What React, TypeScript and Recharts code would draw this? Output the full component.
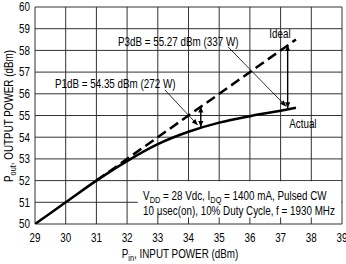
import { LineChart, Line, XAxis, YAxis, CartesianGrid, ReferenceLine, ReferenceArea, ReferenceDot } from "recharts";

const FONT = '"Liberation Sans", Arial, sans-serif';
const SQUEEZE = 0.82; // narrow face look

// axes
const xTicks = [29, 30, 31, 32, 33, 34, 35, 36, 37, 38, 39];
const yTicks = [50, 51, 52, 53, 54, 55, 56, 57, 58, 59, 60];

// measured output power
const pinActual = [29, 30, 31, 32, 33, 34, 35, 36, 37, 37.5];
const poutActual = [50, 51, 52, 52.9, 53.68, 54.25, 54.67, 54.97, 55.22, 55.36];

// ideal (linear) output power
const pinIdeal = [31, 37.5];
const poutIdeal = [52, 58.5];

// compression arrows: input power, ideal level, actual level
const p1Arrow = [34.4, 55.41, 54.47];
const p3Arrow = [37.23, 58.25, 55.33];

// label leaders: [from pin, from pout, to pin, to pout]
const p1Leader = [33.23, 56.18, 34.3, 54.56];
const p3Leader = [35.29, 58.16, 37.18, 55.42];

const actualData = pinActual.map((pin, i) => ({ pin, pout: poutActual[i] }));
const idealData = pinIdeal.map((pin, i) => ({ pin, pout: poutIdeal[i] }));

function NText({ x, y, anchor = "start", rotate = 0, dy = "0.36em", children }: any) {
  return (
    <text
      transform={`translate(${x},${y}) rotate(${rotate}) scale(${SQUEEZE},1)`}
      textAnchor={anchor}
      dy={dy}
      fontFamily={FONT}
      fontSize={12}
      fill="#000"
    >
      {children}
    </text>
  );
}

function head(x: number, y: number, dx: number, dy: number, size: number) {
  const len = Math.hypot(dx, dy) || 1;
  const ux = dx / len;
  const uy = dy / len;
  const bx = x - ux * size;
  const by = y - uy * size;
  const w = size * 0.42;
  return (
    <polygon
      points={`${x},${y} ${bx - uy * w},${by + ux * w} ${bx + uy * w},${by - ux * w}`}
      fill="#000"
    />
  );
}

const doubleArrow = (p: any) => {
  const { x1, y1, x2, y2 } = p;
  return (
    <g>
      <line x1={x1} y1={y1} x2={x2} y2={y2} stroke="#000" strokeWidth={1.4} />
      {head(x1, y1, x1 - x2, y1 - y2, 6)}
      {head(x2, y2, x2 - x1, y2 - y1, 6)}
    </g>
  );
};

const leader = (p: any) => {
  const { x1, y1, x2, y2 } = p;
  return (
    <g>
      <line x1={x1} y1={y1} x2={x2} y2={y2} stroke="#000" strokeWidth={0.8} />
      {head(x2, y2, x2 - x1, y2 - y1, 6)}
    </g>
  );
};

const note = (content: React.ReactNode) => (p: any) => (
  <NText x={p.cx} y={p.cy}>{content}</NText>
);

const sub = (s: string) => (
  <tspan fontSize={9} dy={3}>{s}</tspan>
);

export default function App() {
  return (
    <div style={{ position: "absolute", left: 0, top: 0, width: 346, height: 264, background: "#fff" }}>
      <LineChart width={346} height={264} margin={{ top: 7, right: 4, bottom: 0, left: 0 }}>
        <CartesianGrid stroke="#333" strokeWidth={1} />
        <XAxis
          type="number"
          dataKey="pin"
          domain={[29, 39]}
          ticks={xTicks}
          interval={0}
          allowDataOverflow
          height={40}
          axisLine={false}
          tickLine={false}
          tickSize={0}
          tickMargin={9}
          tick={(p: any) => <NText x={p.x} y={p.y} anchor="middle" dy="0.72em">{p.payload.value}</NText>}
        />
        <YAxis
          type="number"
          dataKey="pout"
          domain={[50, 60]}
          ticks={yTicks}
          interval={0}
          allowDataOverflow
          width={35}
          axisLine={false}
          tickLine={false}
          tickSize={0}
          tickMargin={5}
          tick={(p: any) => <NText x={p.x} y={p.y} anchor="end">{p.payload.value}</NText>}
        />
        <ReferenceArea x1={32.35} x2={38.97} y1={50.3} y2={51.97} fill="#fff" fillOpacity={1} stroke="none" />
        <Line data={idealData} dataKey="pout" type="linear" stroke="#000" strokeWidth={2.5} strokeDasharray="10 5" dot={false} isAnimationActive={false} />
        <Line data={actualData} dataKey="pout" type="monotone" stroke="#000" strokeWidth={2.5} dot={false} isAnimationActive={false} />
        <ReferenceLine segment={[{ x: p1Arrow[0], y: p1Arrow[1] }, { x: p1Arrow[0], y: p1Arrow[2] }]} shape={doubleArrow} />
        <ReferenceLine segment={[{ x: p3Arrow[0], y: p3Arrow[1] }, { x: p3Arrow[0], y: p3Arrow[2] }]} shape={doubleArrow} />
        <ReferenceLine segment={[{ x: p1Leader[0], y: p1Leader[1] }, { x: p1Leader[2], y: p1Leader[3] }]} shape={leader} />
        <ReferenceLine segment={[{ x: p3Leader[0], y: p3Leader[1] }, { x: p3Leader[2], y: p3Leader[3] }]} shape={leader} />
        <ReferenceDot x={31.7} y={58.39} r={0} ifOverflow="visible" shape={note("P3dB = 55.27 dBm (337 W)")} />
        <ReferenceDot x={29.65} y={56.45} r={0} ifOverflow="visible" shape={note("P1dB = 54.35 dBm (272 W)")} />
        <ReferenceDot x={36.63} y={58.79} r={0} ifOverflow="visible" shape={note("Ideal")} />
        <ReferenceDot x={37.28} y={54.64} r={0} ifOverflow="visible" shape={note("Actual")} />
        <ReferenceDot
          x={32.52}
          y={51.3}
          r={0}
          ifOverflow="visible"
          shape={note(
            <>
              V{sub("DD")}<tspan dy={-3}> = 28 Vdc, I</tspan>{sub("DQ")}<tspan dy={-3}> = 1400 mA, Pulsed CW</tspan>
            </>
          )}
        />
        <ReferenceDot x={32.52} y={50.6} r={0} ifOverflow="visible" shape={note("10 \u03bcsec(on), 10% Duty Cycle, f = 1930 MHz")} />
      </LineChart>
      <svg width={346} height={264} style={{ position: "absolute", left: 0, top: 0, pointerEvents: "none" }}>
        <NText x={180} y={254} anchor="middle">
          P<tspan fontSize={9} dy={3}>in</tspan><tspan dy={-3}>, INPUT POWER (dBm)</tspan>
        </NText>
        <NText x={9} y={116} anchor="middle" rotate={-90}>
          P<tspan fontSize={9} dy={3}>out</tspan><tspan dy={-3}>, OUTPUT POWER (dBm)</tspan>
        </NText>
      </svg>
    </div>
  );
}
